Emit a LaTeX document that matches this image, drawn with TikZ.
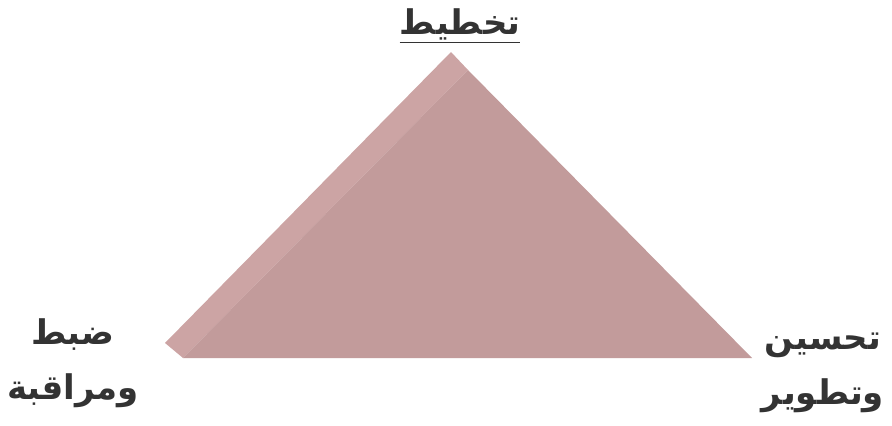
\documentclass[tikz,border=0pt]{standalone}
\usepackage{fontspec}
\newfontfamily\arabicfont[Script=Arabic]{DejaVu Sans}
\TeXXeTstate=1
\definecolor{pyrfront}{RGB}{194,155,155}
\definecolor{pyrside}{RGB}{204,164,164}
\definecolor{labeltext}{RGB}{51,51,51}
\usetikzlibrary{positioning}

\begin{document}
\begin{tikzpicture}[x=0.03cm,y=-0.03cm,
    arlabel/.style={text=labeltext,align=center,inner sep=0pt,
                    font=\arabicfont\bfseries\fontsize{29}{47}\selectfont}]
  \useasboundingbox (0,0) rectangle (892,426);

  %% corners of the triangle
  \coordinate (apex)  at (451,52);
  \coordinate (front) at (468,70);
  \coordinate (left)  at (165,343);
  \coordinate (botl)  at (183,358);
  \coordinate (botr)  at (752,358);

  %% bevel and front face
  \fill[pyrside] (apex) -- (front) -- (botl) -- (left) -- cycle;
  \fill[pyrfront] (front) -- (botr) -- (botl) -- cycle;

  %% labels
  \node[arlabel] (plan) at (460,26)
        {\underline{\beginR تخطيط\endR}};
  \node[arlabel] (control) at (73,363)
        {\beginR ضبط\endR\\ \beginR ومراقبة\endR};
  \node[arlabel] (improve) at (823,373)
        {\beginR تحسين\endR\\ \beginR وتطوير\endR};
\end{tikzpicture}
\end{document}
